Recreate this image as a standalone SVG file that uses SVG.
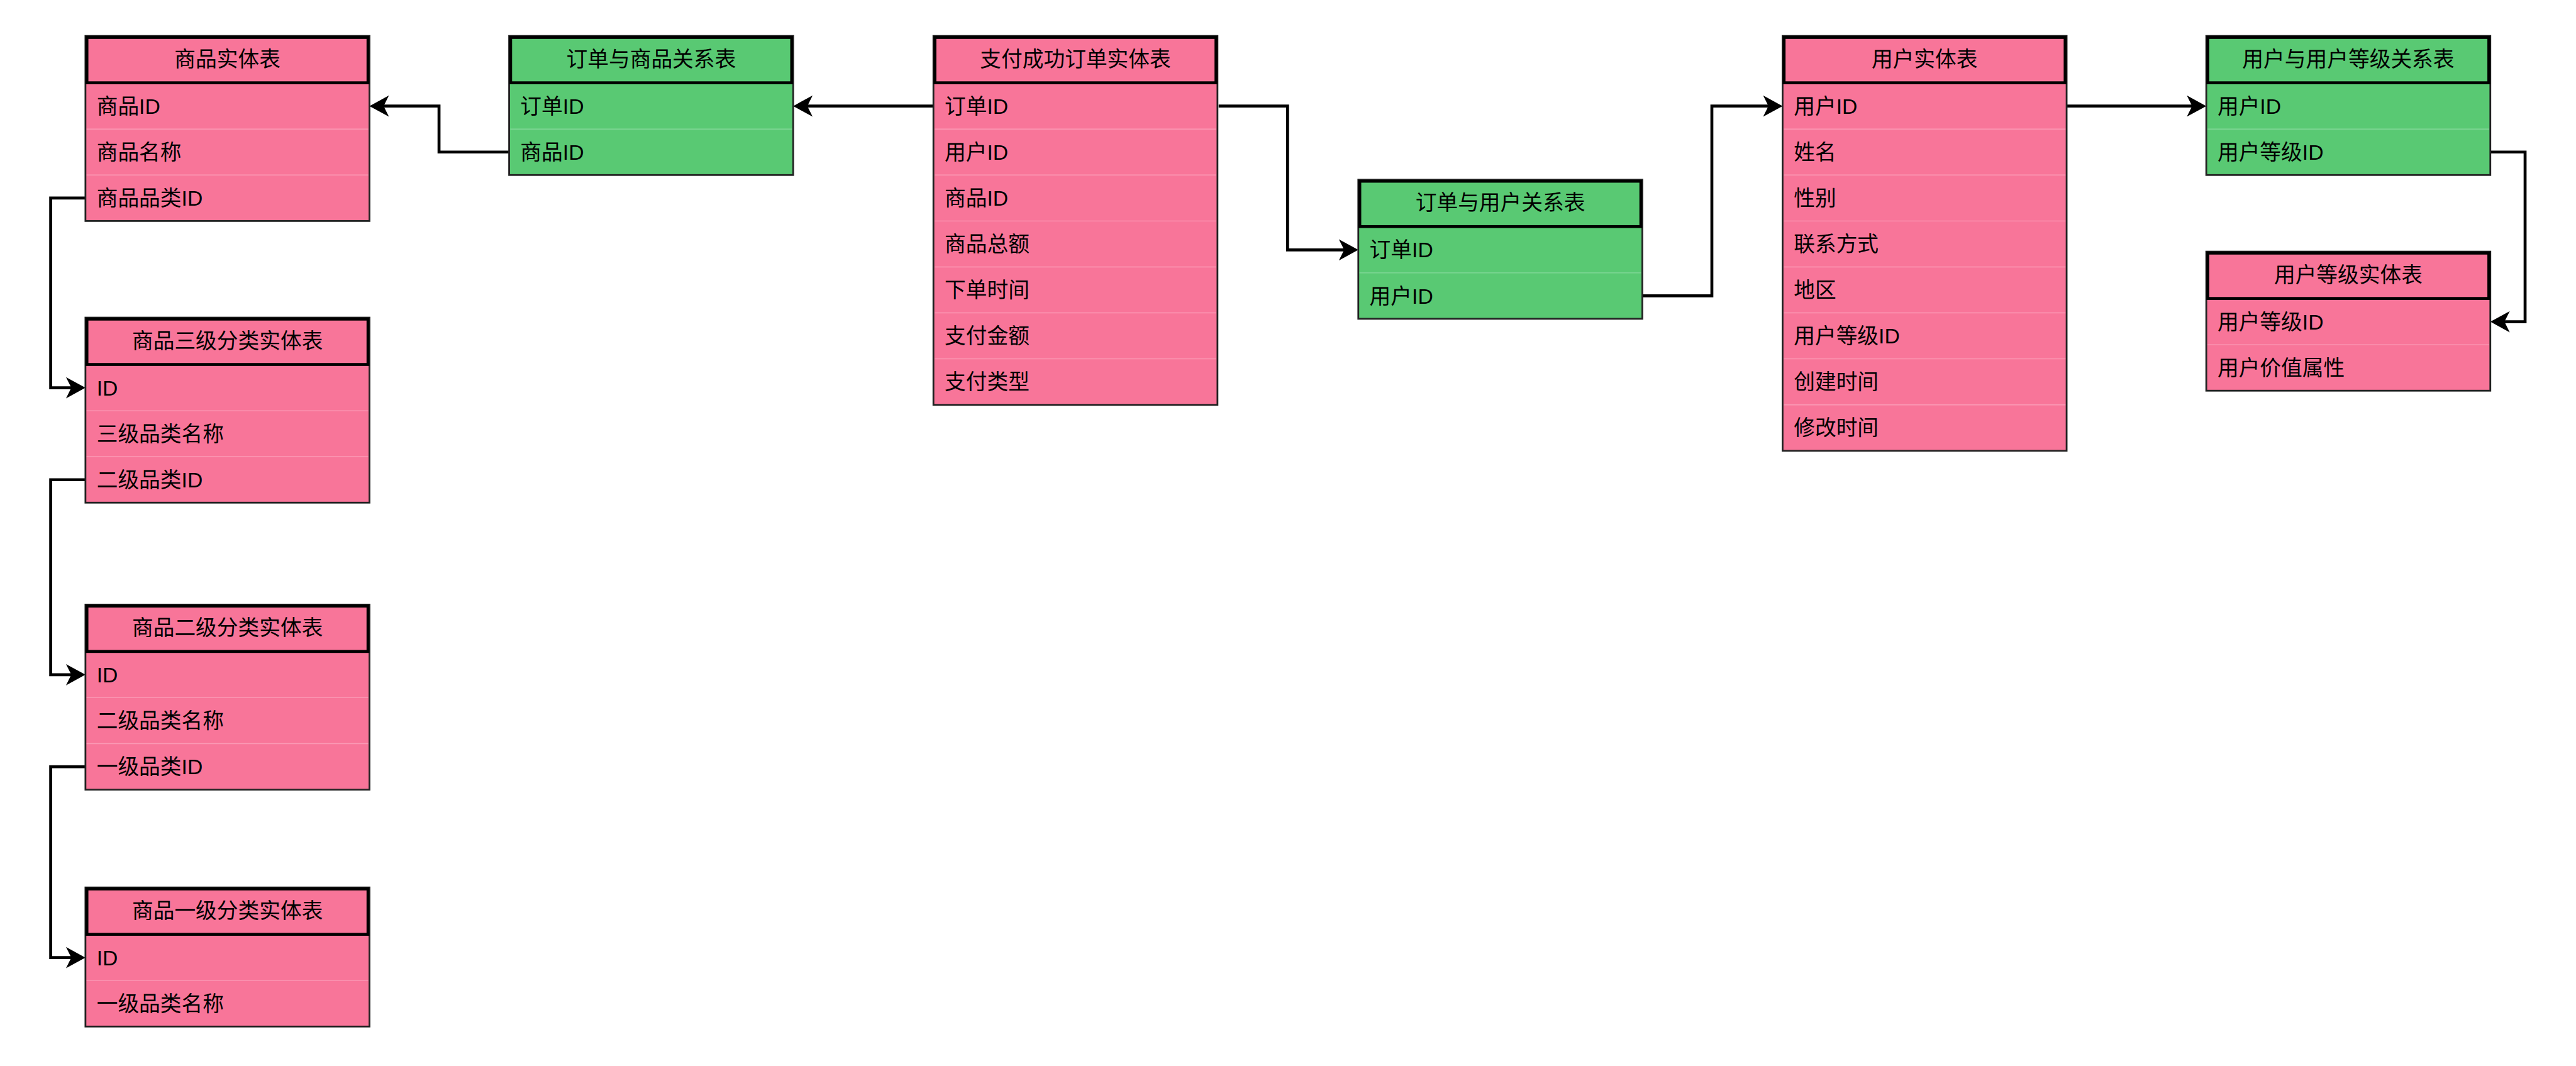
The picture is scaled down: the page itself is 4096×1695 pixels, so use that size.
<svg xmlns="http://www.w3.org/2000/svg" width="4096" height="1695" viewBox="0 0 4096 1695">
<defs>
<style>
.pink{fill:#F87599;stroke:#222;stroke-width:3}
.green{fill:#59C973;stroke:#222;stroke-width:3}
.hdr{fill:none;stroke:#000;stroke-width:5}
.sepP{stroke:#FB9DB8;stroke-width:1.5}
.sepG{stroke:#86D99B;stroke-width:1.5}
.t{font-family:"Liberation Sans","Noto Sans CJK SC",sans-serif;font-size:36px;fill:#000}
.h{text-anchor:middle}
.c{fill:none;stroke:#000;stroke-width:5}
</style>
<marker id="arr" markerUnits="userSpaceOnUse" markerWidth="40" markerHeight="40" viewBox="-16 -20 40 40" refX="0" refY="0" orient="auto">
<path d="M20,0 L-13,-18 L-4,0 L-13,18 Z" fill="#000"/>
</marker>
</defs>
<rect width="4096" height="1695" fill="#fff"/>
<g transform="scale(0.937)">
<g id="connectors">
<path class="c" d="M864,258 H745 V180 H647" marker-end="url(#arr)"/>
<path class="c" d="M1584,180 H1366" marker-end="url(#arr)"/>
<path class="c" d="M2068,180 H2185 V424 H2285" marker-end="url(#arr)"/>
<path class="c" d="M2787,502 H2905 V180 H3005" marker-end="url(#arr)"/>
<path class="c" d="M3507,180 H3724" marker-end="url(#arr)"/>
<path class="c" d="M4226,258 H4285 V546 H4246" marker-end="url(#arr)"/>
<path class="c" d="M145,336 H86 V658 H125" marker-end="url(#arr)"/>
<path class="c" d="M145,814 H86 V1145 H125" marker-end="url(#arr)"/>
<path class="c" d="M145,1301 H86 V1625 H125" marker-end="url(#arr)"/>
</g>

<g id="t-product">
<rect class="pink" x="145" y="61" width="482" height="314"/>
<rect class="hdr" x="147.5" y="63.5" width="477" height="77"/>
<line class="sepP" x1="147" y1="219" x2="625" y2="219"/>
<line class="sepP" x1="147" y1="297" x2="625" y2="297"/>
<text class="t h" x="386" y="113">商品实体表</text>
<text class="t" x="164" y="193">商品ID</text>
<text class="t" x="164" y="271">商品名称</text>
<text class="t" x="164" y="349">商品品类ID</text>
</g>

<g id="t-order-product">
<rect class="green" x="864" y="61" width="482" height="236"/>
<rect class="hdr" x="866.5" y="63.5" width="477" height="77"/>
<line class="sepG" x1="866" y1="219" x2="1344" y2="219"/>
<text class="t h" x="1105" y="113">订单与商品关系表</text>
<text class="t" x="883" y="193">订单ID</text>
<text class="t" x="883" y="271">商品ID</text>
</g>

<g id="t-order">
<rect class="pink" x="1584" y="61" width="482" height="626"/>
<rect class="hdr" x="1586.5" y="63.5" width="477" height="77"/>
<line class="sepP" x1="1586" y1="219" x2="2064" y2="219"/>
<line class="sepP" x1="1586" y1="297" x2="2064" y2="297"/>
<line class="sepP" x1="1586" y1="375" x2="2064" y2="375"/>
<line class="sepP" x1="1586" y1="453" x2="2064" y2="453"/>
<line class="sepP" x1="1586" y1="531" x2="2064" y2="531"/>
<line class="sepP" x1="1586" y1="609" x2="2064" y2="609"/>
<text class="t h" x="1825" y="113">支付成功订单实体表</text>
<text class="t" x="1603" y="193">订单ID</text>
<text class="t" x="1603" y="271">用户ID</text>
<text class="t" x="1603" y="349">商品ID</text>
<text class="t" x="1603" y="427">商品总额</text>
<text class="t" x="1603" y="505">下单时间</text>
<text class="t" x="1603" y="583">支付金额</text>
<text class="t" x="1603" y="661">支付类型</text>
</g>

<g id="t-order-user">
<rect class="green" x="2305" y="305" width="482" height="236"/>
<rect class="hdr" x="2307.5" y="307.5" width="477" height="77"/>
<line class="sepG" x1="2307" y1="463" x2="2785" y2="463"/>
<text class="t h" x="2546" y="357">订单与用户关系表</text>
<text class="t" x="2324" y="437">订单ID</text>
<text class="t" x="2324" y="515">用户ID</text>
</g>

<g id="t-user">
<rect class="pink" x="3025" y="61" width="482" height="704"/>
<rect class="hdr" x="3027.5" y="63.5" width="477" height="77"/>
<line class="sepP" x1="3027" y1="219" x2="3505" y2="219"/>
<line class="sepP" x1="3027" y1="297" x2="3505" y2="297"/>
<line class="sepP" x1="3027" y1="375" x2="3505" y2="375"/>
<line class="sepP" x1="3027" y1="453" x2="3505" y2="453"/>
<line class="sepP" x1="3027" y1="531" x2="3505" y2="531"/>
<line class="sepP" x1="3027" y1="609" x2="3505" y2="609"/>
<line class="sepP" x1="3027" y1="687" x2="3505" y2="687"/>
<text class="t h" x="3266" y="113">用户实体表</text>
<text class="t" x="3044" y="193">用户ID</text>
<text class="t" x="3044" y="271">姓名</text>
<text class="t" x="3044" y="349">性别</text>
<text class="t" x="3044" y="427">联系方式</text>
<text class="t" x="3044" y="505">地区</text>
<text class="t" x="3044" y="583">用户等级ID</text>
<text class="t" x="3044" y="661">创建时间</text>
<text class="t" x="3044" y="739">修改时间</text>
</g>

<g id="t-user-level-rel">
<rect class="green" x="3744" y="61" width="482" height="236"/>
<rect class="hdr" x="3746.5" y="63.5" width="477" height="77"/>
<line class="sepG" x1="3746" y1="219" x2="4224" y2="219"/>
<text class="t h" x="3985" y="113">用户与用户等级关系表</text>
<text class="t" x="3763" y="193">用户ID</text>
<text class="t" x="3763" y="271">用户等级ID</text>
</g>

<g id="t-user-level">
<rect class="pink" x="3744" y="427" width="482" height="236"/>
<rect class="hdr" x="3746.5" y="429.5" width="477" height="77"/>
<line class="sepP" x1="3746" y1="585" x2="4224" y2="585"/>
<text class="t h" x="3985" y="479">用户等级实体表</text>
<text class="t" x="3763" y="559">用户等级ID</text>
<text class="t" x="3763" y="637">用户价值属性</text>
</g>

<g id="t-cat3">
<rect class="pink" x="145" y="539" width="482" height="314"/>
<rect class="hdr" x="147.5" y="541.5" width="477" height="77"/>
<line class="sepP" x1="147" y1="697" x2="625" y2="697"/>
<line class="sepP" x1="147" y1="775" x2="625" y2="775"/>
<text class="t h" x="386" y="591">商品三级分类实体表</text>
<text class="t" x="164" y="671">ID</text>
<text class="t" x="164" y="749">三级品类名称</text>
<text class="t" x="164" y="827">二级品类ID</text>
</g>

<g id="t-cat2">
<rect class="pink" x="145" y="1026" width="482" height="314"/>
<rect class="hdr" x="147.5" y="1028.5" width="477" height="77"/>
<line class="sepP" x1="147" y1="1184" x2="625" y2="1184"/>
<line class="sepP" x1="147" y1="1262" x2="625" y2="1262"/>
<text class="t h" x="386" y="1078">商品二级分类实体表</text>
<text class="t" x="164" y="1158">ID</text>
<text class="t" x="164" y="1236">二级品类名称</text>
<text class="t" x="164" y="1314">一级品类ID</text>
</g>

<g id="t-cat1">
<rect class="pink" x="145" y="1506" width="482" height="236"/>
<rect class="hdr" x="147.5" y="1508.5" width="477" height="77"/>
<line class="sepP" x1="147" y1="1664" x2="625" y2="1664"/>
<text class="t h" x="386" y="1558">商品一级分类实体表</text>
<text class="t" x="164" y="1638">ID</text>
<text class="t" x="164" y="1716">一级品类名称</text>
</g>
</g>
</svg>
